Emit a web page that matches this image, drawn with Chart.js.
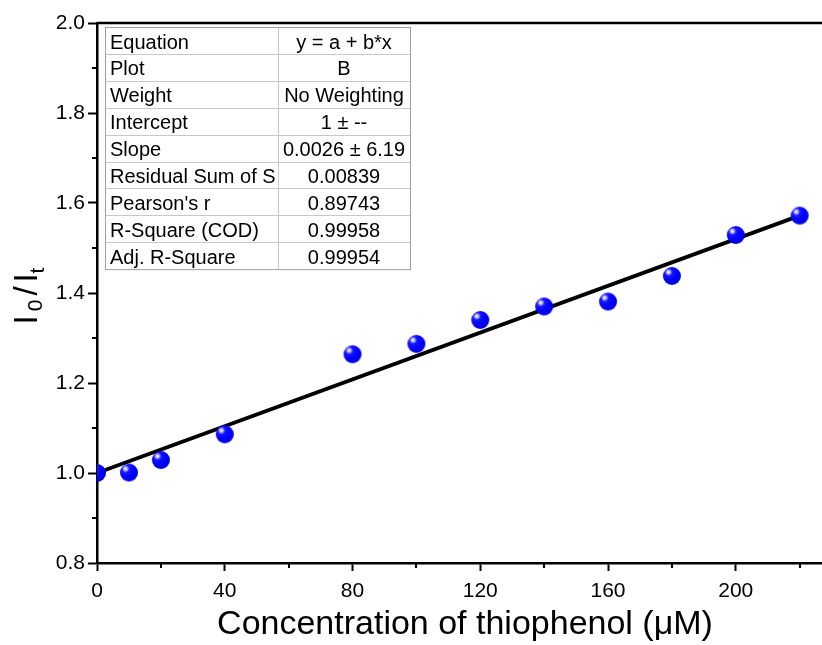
<!DOCTYPE html>
<html>
<head>
<meta charset="utf-8">
<script src="https://cdn.jsdelivr.net/npm/chart.js@4.4.1/dist/chart.umd.min.js"></script>
<style>
  html, body { margin: 0; padding: 0; background: #fff; }
  #wrap { width: 822px; height: 645px; position: relative; }
</style>
</head>
<body>
<div id="wrap"><canvas id="myChart" width="822" height="645"></canvas></div>
<script>
// data
const concentration = [0, 10, 20, 40, 80, 100, 120, 140, 160, 180, 200, 220];
const ratio = [1.0, 1.001, 1.029, 1.086, 1.264, 1.287, 1.34, 1.37, 1.381, 1.438, 1.529, 1.572];
const fitX = [0, 220];
const fitY = [1.0, 1.572];
const xMinorTicks = [20, 60, 100, 140, 180, 220];
const yMinorTicks = [0.9, 1.1, 1.3, 1.5, 1.7, 1.9];
const fitLabels = ['Equation', 'Plot', 'Weight', 'Intercept', 'Slope',
    'Residual Sum of S', "Pearson's r", 'R-Square (COD)', 'Adj. R-Square'];
const fitValues = ['y = a + b*x', 'B', 'No Weighting', '1 \u00b1 --', '0.0026 \u00b1 6.19',
    '0.00839', '0.89743', '0.99958', '0.99954'];

const FONT = '"Liberation Sans", Arial, sans-serif';

// shiny blue ball for the markers
function makeBall(r) {
    const c = document.createElement('canvas');
    c.width = c.height = r * 2 + 2;
    const g = c.getContext('2d');
    const cx = r + 1, cy = r + 1;
    const hx = cx - r * 0.38, hy = cy - r * 0.42;
    const grad = g.createRadialGradient(hx, hy, 0, hx, hy, r * 1.5);
    grad.addColorStop(0, '#ffffff');
    grad.addColorStop(0.1, '#d0d0ff');
    grad.addColorStop(0.28, '#1818ff');
    grad.addColorStop(0.6, '#0000ff');
    grad.addColorStop(1, '#0000dd');
    g.fillStyle = grad;
    g.beginPath();
    g.arc(cx, cy, r, 0, Math.PI * 2);
    g.fill();
    return c;
}

const decorations = {
    id: 'decorations',
    afterDraw(chart) {
        const { ctx, chartArea, scales } = chart;
        const x = scales.x, y = scales.y;
        ctx.save();
        ctx.strokeStyle = '#000';

        // top frame line
        ctx.lineWidth = 2.5;
        ctx.beginPath();
        ctx.moveTo(chartArea.left, chartArea.top);
        ctx.lineTo(chartArea.right, chartArea.top);
        ctx.stroke();

        // minor ticks
        ctx.lineWidth = 2;
        ctx.beginPath();
        xMinorTicks.forEach(v => {
            const px = Math.round(x.getPixelForValue(v));
            ctx.moveTo(px, chartArea.bottom);
            ctx.lineTo(px, chartArea.bottom + 5);
        });
        yMinorTicks.forEach(v => {
            const py = Math.round(y.getPixelForValue(v));
            ctx.moveTo(chartArea.left, py);
            ctx.lineTo(chartArea.left - 5, py);
        });
        ctx.stroke();

        // x title
        ctx.fillStyle = '#000';
        ctx.font = '34px ' + FONT;
        ctx.textAlign = 'center';
        ctx.textBaseline = 'alphabetic';
        ctx.fillText('Concentration of thiophenol (\u03bcM)', 465, 634);

        // y title I0/It
        ctx.save();
        ctx.translate(37, 0);
        ctx.rotate(-Math.PI / 2);
        const parts = [
            ['I', 33, 320, 0],
            ['0', 21, 305.5, 5],
            ['/', 33, 291, 0],
            ['I', 33, 278, 0],
            ['t', 21, 270.5, 7]
        ];
        parts.forEach(p => {
            ctx.font = p[1] + 'px ' + FONT;
            ctx.textAlign = 'center';
            ctx.fillText(p[0], -p[2], p[3]);
        });
        ctx.restore();

        // fit results table
        const tl = 105, tr = 410, tc = 278, tt = 27, rowH = 26.9;
        const tb = tt + rowH * fitLabels.length;
        ctx.fillStyle = '#fff';
        ctx.fillRect(tl, tt, tr - tl, tb - tt);
        ctx.strokeStyle = '#c8c8c8';
        ctx.lineWidth = 1;
        ctx.beginPath();
        for (let i = 1; i < fitLabels.length; i++) {
            const ry = Math.round(tt + rowH * i) + 0.5;
            ctx.moveTo(tl, ry);
            ctx.lineTo(tr, ry);
        }
        ctx.moveTo(tc + 0.5, tt);
        ctx.lineTo(tc + 0.5, tb);
        ctx.stroke();
        ctx.strokeStyle = '#a0a0a0';
        ctx.strokeRect(tl + 0.5, tt + 0.5, tr - tl, tb - tt);

        ctx.fillStyle = '#000';
        ctx.font = '20px ' + FONT;
        fitLabels.forEach((lab, i) => {
            const by = tt + rowH * i + 21.5;
            ctx.textAlign = 'left';
            ctx.fillText(lab, tl + 5, by);
            ctx.textAlign = 'center';
            ctx.fillText(fitValues[i], (tc + tr) / 2, by);
        });
        ctx.restore();
    }
};

const ctx = document.getElementById('myChart');
const myChart = new Chart(ctx, {
    type: 'scatter',
    data: {
        datasets: [{
            label: 'Fit',
            type: 'line',
            data: fitX.map((v, i) => ({ x: v, y: fitY[i] })),
            borderColor: '#000',
            borderWidth: 3.8,
            pointRadius: 0,
            fill: false,
            order: 2
        }, {
            label: 'B',
            data: concentration.map((v, i) => ({ x: v, y: ratio[i] })),
            pointStyle: makeBall(9),
            pointRadius: 9,
            order: 1
        }]
    },
    options: {
        responsive: false,
        animation: false,
        devicePixelRatio: 1,
        layout: { autoPadding: false, padding: { top: 23, right: 0, left: 0, bottom: 0 } },
        plugins: {
            legend: { display: false },
            tooltip: { enabled: false }
        },
        scales: {
            x: {
                type: 'linear',
                min: 0,
                max: 227,
                afterFit: s => { s.height = 82; s.paddingRight = 0; s.paddingLeft = 0; },
                border: { color: '#000', width: 2.5 },
                grid: { drawOnChartArea: false, drawTicks: true, tickLength: 8, color: '#000', tickWidth: 2 },
                ticks: {
                    stepSize: 40,
                    includeBounds: false,
                    color: '#000',
                    padding: 8,
                    maxRotation: 0,
                    font: { family: FONT, size: 21 }
                }
            },
            y: {
                min: 0.8,
                max: 2.0,
                afterFit: s => { s.width = 97; },
                border: { color: '#000', width: 2.5 },
                grid: { drawOnChartArea: false, drawTicks: true, tickLength: 9, color: '#000', tickWidth: 2 },
                ticks: {
                    stepSize: 0.2,
                    color: '#000',
                    padding: 3,
                    font: { family: FONT, size: 21 },
                    callback: v => Number(v).toFixed(1)
                }
            }
        }
    },
    plugins: [decorations]
});
</script>
</body>
</html>
